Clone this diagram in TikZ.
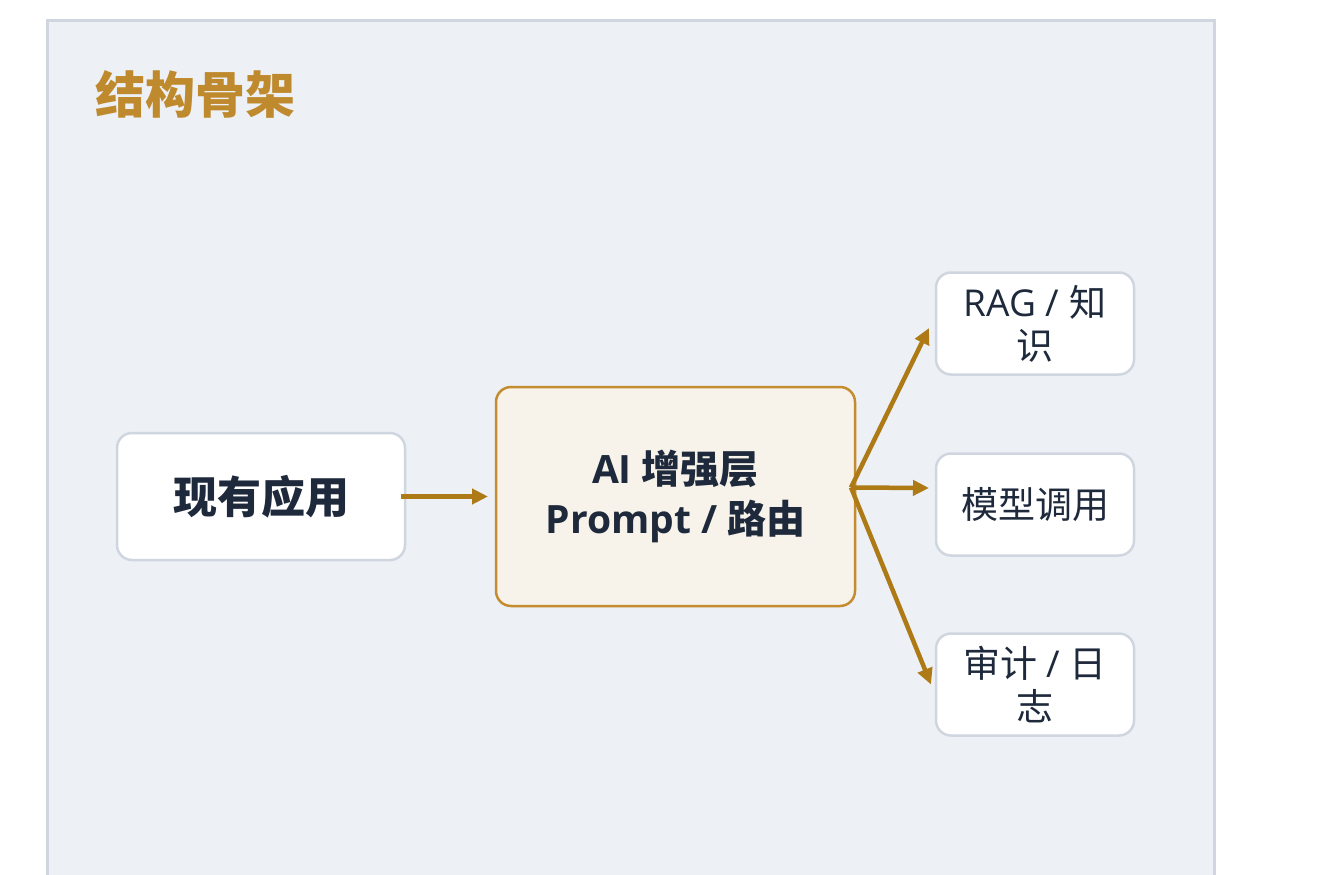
\documentclass[tikz,border=0pt]{standalone}
\usepackage{fontspec}
\setmainfont{Open Sans}
\newfontfamily\cjk{Noto Sans CJK SC}
\usepackage{tikz}
\usetikzlibrary{arrows.meta, positioning}
\usepackage{xcolor}

\definecolor{panelfill}{HTML}{EDF0F5}
\definecolor{panelline}{HTML}{D0D6E0}
\definecolor{titlegold}{HTML}{BF8A2E}
\definecolor{arrowgold}{HTML}{AD7A16}
\definecolor{aifill}{HTML}{F7F3EA}
\definecolor{ailine}{HTML}{C48C2F}
\definecolor{inkblue}{HTML}{1E293B}

\begin{document}
\begin{tikzpicture}[
    x=1pt, y=-1pt,
    box/.style={
        rectangle,
        rounded corners=15pt,
        draw=panelline,
        line width=2.5pt,
        fill=white,
        align=center,
        inner sep=0pt,
        outer sep=0pt,
        text=inkblue
    },
    appbox/.style={
        box,
        minimum width=288pt,
        minimum height=127pt,
        font=\cjk\fontsize{44}{50}\selectfont\bfseries
    },
    aibox/.style={
        box,
        draw=ailine,
        fill=aifill,
        minimum width=359pt,
        minimum height=219pt,
        font=\fontsize{39}{50}\selectfont\bfseries
    },
    sidebox/.style={
        box,
        minimum width=198pt,
        minimum height=102pt,
        font=\fontsize{37}{43}\selectfont
    },
    arrow/.style={-{Triangle[length=16pt,width=15pt]}, line width=4.5pt, draw=arrowgold}
]

\useasboundingbox (0,0) rectangle (1325,875);

% Panel
\draw[panelline, fill=panelfill, line width=3pt] (47.5,20.5) rectangle (1214.5,900);
\node[anchor=west, text=titlegold, font=\cjk\fontsize{50}{60}\selectfont\bfseries] (title) at (92,94) {结构骨架};

% Main row
\node[appbox] (app) at (261,496.5) {现有应用};

\node[aibox, right=91pt of app] (ai) {AI {\cjk 增强层}\\
Prompt / {\cjk 路由}};

% Right column
\node[sidebox, right=81pt of ai, yshift=-8pt] (model) {\cjk 模型调用};

\node[sidebox, above=79pt of model] (rag) {RAG / {\cjk 知}\\
{\cjk 识}};

\node[sidebox, below=78pt of model] (audit) {{\cjk 审计} / {\cjk 日}\\
{\cjk 志}};

% Arrows
\coordinate[xshift=-4pt, yshift=9pt] (fork) at (ai.east);
\draw[arrow] ([xshift=-4pt]app.east) -- ([xshift=-8pt]ai.west);
\draw[arrow] (fork) -- ([xshift=-7pt, yshift=-4.5pt]rag.west);
\draw[arrow] (fork) -- ([xshift=-7pt, yshift=16.5pt]model.west);
\draw[arrow] (fork) -- ([xshift=-5pt]audit.west);

\end{tikzpicture}
\end{document}
